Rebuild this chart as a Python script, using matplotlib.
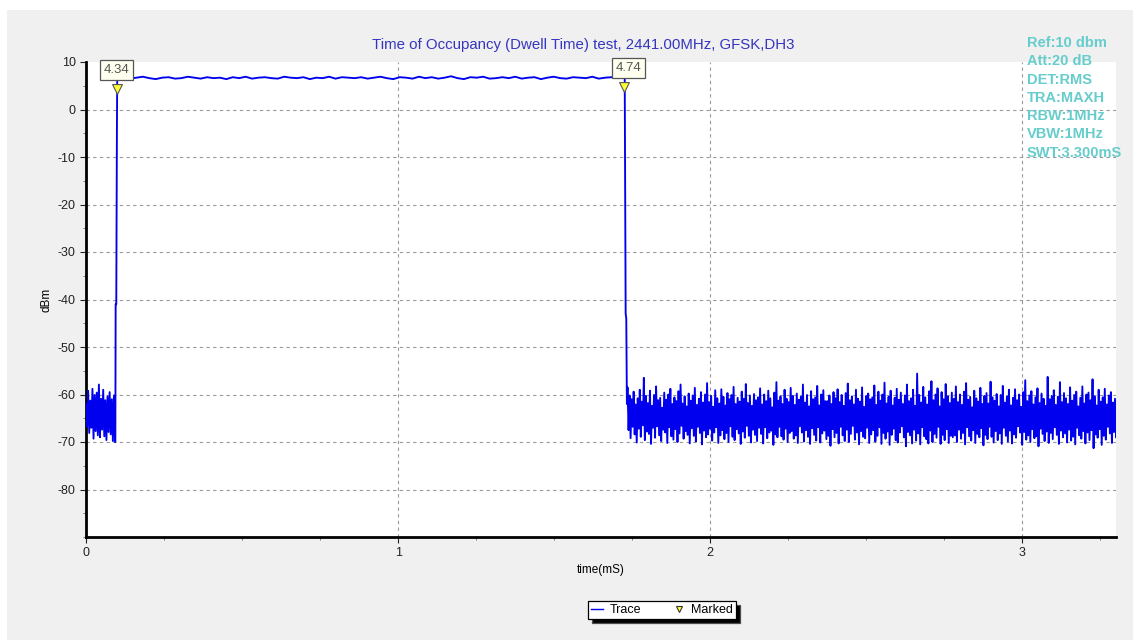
import numpy as np
import matplotlib
matplotlib.use('Agg')
import matplotlib.pyplot as plt
from matplotlib.patches import Rectangle
from matplotlib.lines import Line2D
from matplotlib.ticker import MultipleLocator

plt.rcParams['font.family'] = ['Liberation Sans', 'DejaVu Sans']
plt.rcParams['axes.unicode_minus'] = False

### Trace data (dBm)
# noise before the burst, 0 .. 0.093 ms, alternate peaks / troughs
left_hi = [-62.0, -59.2, -61.3, -58.8, -60.1, -59.6, -57.9, -60.9, -59.0, -61.2, -60.4, -59.5, -61.0, -60.2]
left_lo = [-66.8, -68.1, -67.0, -69.3, -67.7, -68.6, -69.0, -67.4, -68.8, -69.6, -67.9, -68.4, -69.8, -70.0]

# rising edge of the burst
rise_t = [0.094, 0.095, 0.097, 0.098, 0.099, 0.100]
rise_v = [-70.0, -41.0, -41.0, -20.0, -5.0, 6.6]

# burst top, 0.1 .. 1.725 ms
top_v = [6.6, 6.8, 6.5, 6.7, 6.9, 6.6, 6.4, 6.7, 6.8, 6.5, 6.6, 6.9, 6.7, 6.5, 6.8, 6.6, 6.7, 6.4, 6.8, 6.6,
         6.9, 6.5, 6.7, 6.8, 6.6, 6.5, 6.9, 6.7, 6.6, 6.8, 6.4, 6.7, 6.6, 6.9, 6.5, 6.8, 6.7, 6.6, 6.8, 6.5,
         6.7, 6.9, 6.6, 6.4, 6.8, 6.7, 6.5, 6.9, 6.6, 6.8, 6.5, 6.7, 7.0, 6.6, 6.4, 6.8, 6.7, 6.9, 6.5, 6.6,
         6.8, 6.6, 6.9, 6.5, 6.7, 6.8, 6.4, 6.7, 6.9, 6.6, 6.5, 6.8, 6.7, 6.6, 6.9, 6.5, 6.7, 6.8, 6.6, 6.7]

# falling edge
fall_t = [1.726, 1.727, 1.729, 1.731, 1.733]
fall_v = [6.6, -11.0, -43.0, -44.0, -62.0]

# noise after the burst, 1.735 .. 3.3 ms
noise_hi = [-58.5, -60.2, -61.0, -59.4, -62.1, -60.8, -59.0, -61.5, -56.5, -60.3,
            -61.8, -59.2, -62.4, -60.1, -58.3, -61.2, -60.7, -62.8, -59.6, -61.1,
            -60.0, -58.8, -62.0, -60.6, -61.4, -59.3, -57.9, -61.9, -60.4, -62.5,
            -59.8, -61.3, -60.2, -58.6, -62.2, -60.9, -59.5, -61.7, -60.0, -57.6,
            -61.6, -60.3, -62.6, -59.1, -60.8, -61.9, -58.9, -60.5, -62.3, -59.7,
            -61.0, -60.1, -58.4, -62.0, -60.7, -61.5, -59.4, -60.9, -57.8, -61.8,
            -60.2, -62.4, -59.9, -61.2, -60.6, -58.7, -62.1, -60.0, -61.4, -59.2,
            -60.8, -62.7, -59.6, -57.4, -61.3, -60.4, -62.0, -59.0, -60.9, -61.6,
            -58.6, -60.3, -62.2, -59.8, -61.1, -60.5, -57.9, -61.7, -60.1, -62.5,
            -59.3, -61.0, -60.6, -58.2, -62.3, -60.0, -59.1, -61.4, -61.4, -60.2,
            -62.0, -59.5, -60.8, -58.9, -61.6, -60.1, -62.4, -59.7, -57.7, -61.2,
            -60.4, -62.1, -59.0, -60.9, -61.5, -58.5, -62.6, -60.3, -59.8, -61.0,
            -60.6, -58.1, -62.2, -59.4, -61.3, -60.0, -57.5, -61.9, -60.5, -59.2,
            -62.3, -60.7, -58.8, -61.1, -59.6, -62.0, -60.2, -57.9, -61.4, -60.8,
            -59.0, -62.4, -55.6, -60.1, -61.7, -58.4, -60.6, -62.1, -59.3, -57.2,
            -61.2, -60.0, -58.7, -62.5, -59.5, -61.0, -57.8, -60.4, -61.8, -59.6,
            -60.9, -58.3, -61.6, -60.0, -62.2, -59.4, -57.6, -61.1, -60.5, -62.7,
            -59.2, -60.8, -61.5, -58.6, -62.0, -60.3, -59.7, -61.9, -57.3, -60.6,
            -61.3, -59.9, -62.5, -60.1, -58.2, -61.7, -60.4, -59.0, -62.3, -60.7,
            -58.9, -61.2, -60.0, -62.6, -59.5, -57.0, -61.4, -60.2, -59.3, -62.1,
            -60.6, -58.7, -61.8, -59.8, -60.9, -62.4, -56.3, -61.0, -60.3, -59.1,
            -62.2, -60.5, -57.4, -61.6, -59.7, -60.8, -62.0, -58.5, -61.3, -60.1,
            -59.4, -62.5, -60.7, -58.3, -61.9, -60.0, -59.6, -61.2, -56.8, -60.4,
            -62.3, -59.0, -61.5, -60.6, -58.8, -62.1, -60.2, -59.5, -61.7, -60.9]
noise_lo = [-67.5, -69.2, -66.8, -68.4, -70.1, -67.2, -68.9, -66.5, -69.6, -67.8,
            -68.3, -70.4, -67.0, -69.1, -66.7, -68.6, -69.8, -67.4, -68.0, -70.2,
            -66.9, -68.8, -69.5, -67.3, -70.0, -68.2, -66.6, -69.3, -67.7, -68.5,
            -70.3, -67.1, -68.7, -69.9, -66.8, -68.1, -70.5, -67.6, -69.0, -68.4,
            -67.2, -69.7, -68.0, -66.9, -70.2, -68.6, -67.5, -69.4, -68.1, -70.0,
            -66.7, -68.9, -69.6, -67.3, -68.2, -70.4, -67.8, -69.1, -66.6, -68.7,
            -70.1, -67.4, -68.5, -69.8, -67.0, -68.3, -70.3, -66.9, -69.2, -68.0,
            -67.6, -70.6, -68.4, -69.0, -66.8, -68.8, -69.5, -67.2, -70.0, -68.1,
            -67.7, -69.3, -68.6, -70.2, -66.7, -68.0, -69.9, -67.5, -68.9, -70.4,
            -67.1, -68.5, -69.7, -66.9, -70.1, -68.2, -67.6, -69.4, -68.7, -70.8,
            -67.3, -69.0, -68.1, -70.3, -66.8, -68.6, -69.8, -67.4, -70.0, -68.3,
            -66.6, -69.5, -68.0, -70.5, -67.7, -68.9, -69.2, -67.0, -70.2, -68.4,
            -67.5, -69.9, -68.7, -66.9, -70.4, -68.1, -69.3, -67.8, -70.6, -68.5,
            -67.2, -69.6, -70.1, -68.0, -66.7, -69.0, -70.9, -67.9, -68.6, -70.3,
            -67.4, -69.7, -68.2, -70.5, -66.9, -68.8, -69.4, -70.3, -67.6, -70.0,
            -68.3, -69.1, -66.8, -70.4, -68.5, -69.6, -67.3, -70.2, -68.7, -69.0,
            -68.6, -70.0, -67.4, -69.3, -68.1, -70.5, -66.9, -68.8, -69.7, -67.5,
            -70.2, -68.3, -69.0, -67.1, -70.7, -68.5, -69.4, -66.8, -68.9, -70.1,
            -67.7, -69.6, -68.2, -70.4, -67.0, -68.7, -69.9, -67.6, -70.3, -68.4,
            -69.1, -66.7, -68.0, -70.6, -67.9, -69.5, -68.6, -70.0, -67.3, -69.2,
            -68.8, -70.9, -67.2, -68.3, -69.8, -67.8, -70.2, -68.1, -69.4, -66.9,
            -68.5, -70.4, -67.6, -69.0, -68.2, -70.1, -67.4, -69.7, -68.9, -70.5,
            -67.0, -68.6, -69.3, -67.7, -70.3, -68.0, -69.6, -67.5, -71.3, -68.4,
            -69.1, -67.3, -70.6, -68.7, -69.5, -66.8, -68.2, -70.2, -67.9, -69.0]

# markers
mark_t = [0.098, 1.725]
mark_v = [4.34, 4.74]
mark_lbl = ['4.34', '4.74']

info_lines = ['Ref:10 dbm', 'Att:20 dB', 'DET:RMS', 'TRA:MAXH', 'RBW:1MHz', 'VBW:1MHz', 'SWT:3.300mS']


def interleave(hi, lo):
    out = np.empty(2 * len(hi))
    out[0::2] = hi
    out[1::2] = lo
    return out


left_v = interleave(left_hi, left_lo)
left_t = np.linspace(0.0, 0.093, len(left_v))
right_v = interleave(noise_hi, noise_lo)
right_t = np.linspace(1.735, 3.3, len(right_v))
top_t = np.linspace(0.1, 1.725, len(top_v))

t = np.concatenate([left_t, rise_t, top_t, fall_t, right_t])
v = np.concatenate([left_v, rise_v, top_v, fall_v, right_v])

### Figure
fig = plt.figure(figsize=(11.39, 6.44), dpi=100, facecolor='white')
fig.patches.append(Rectangle((7 / 1139, 1 - 640 / 644), 1126 / 1139, 630 / 644,
                             transform=fig.transFigure, facecolor='#f0f0f0',
                             edgecolor='none', zorder=-10))

ax = fig.add_axes([86 / 1139, 1 - 537 / 644, 1030 / 1139, 475 / 644])
ax.set_facecolor('white')
ax.plot(t, v, color='#0000ee', lw=1.35, label='Trace', zorder=3)

ax.scatter(mark_t, mark_v, marker='v', s=50, color='#ffff33',
           edgecolors='#555555', linewidths=0.8, zorder=5, label='Marked')
for mt, mv, lbl, dx in zip(mark_t, mark_v, mark_lbl, [0, 4]):
    ax.annotate(lbl, xy=(mt, mv), xytext=(dx, 19), textcoords='offset pixels',
                ha='center', va='center', fontsize=9.5, color='#555555', zorder=6,
                bbox=dict(boxstyle='square,pad=0.3', fc='#fffff0', ec='#555555', lw=0.9))

ax.set_xlim(0, 3.3)
ax.set_ylim(-90, 10)
ax.set_yticks(np.arange(-80, 11, 10))
ax.set_xticks([0, 1, 2, 3])
ax.xaxis.set_minor_locator(MultipleLocator(0.25))
ax.yaxis.set_minor_locator(MultipleLocator(5))
ax.tick_params(which='major', length=4, width=0.8, labelsize=9, colors='#222222')
ax.tick_params(which='minor', length=2, width=0.6, color='#666666')
ax.grid(True, which='major', color='#999999', ls=(0, (3, 3)), lw=0.8)
ax.get_ygridlines()[-1].set_visible(False)

for s in ['top', 'right']:
    ax.spines[s].set_visible(False)
for s in ['left', 'bottom']:
    ax.spines[s].set_linewidth(2)
    ax.spines[s].set_color('black')

ax.set_xlabel('time(mS)', fontsize=8.5, labelpad=3)
ax.set_ylabel('dBm', fontsize=8.5, labelpad=4)

fig.text(583 / 1139, 1 - 45 / 644, 'Time of Occupancy (Dwell Time) test, 2441.00MHz, GFSK,DH3',
         ha='center', va='center', fontsize=10.8, color='#3535c0')

for i, line in enumerate(info_lines):
    fig.text(1027 / 1139, 1 - (43 + i * 18.3) / 644, line, ha='left', va='center',
             fontsize=10.5, fontweight='bold', color='#66cccc', zorder=10)

handles = [Line2D([], [], color='#0000ee', lw=1),
           Line2D([], [], ls='none', marker='v', ms=5, mfc='#ffff33', mec='#333333', mew=0.8)]
leg = fig.legend(handles, ['Trace', 'Marked'], loc='center', bbox_to_anchor=(662 / 1139, 1 - 610 / 644),
                 ncol=2, fontsize=9, frameon=True, fancybox=False, handlelength=1.0,
                 handletextpad=0.5, columnspacing=2.5, borderpad=0.25,
                 shadow={'ox': 3, 'oy': -3, 'facecolor': 'black', 'alpha': 1})
leg.get_frame().set_edgecolor('black')
leg.get_frame().set_linewidth(0.9)
leg.get_frame().set_alpha(1)

fig.savefig('out.png', dpi=100, facecolor=fig.get_facecolor())
